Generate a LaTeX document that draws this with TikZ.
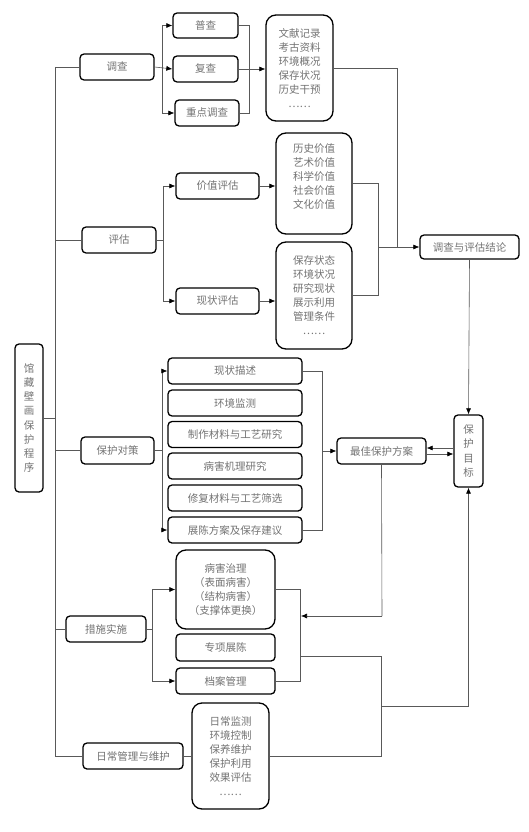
\documentclass[tikz,border=0pt]{standalone}
\usepackage{fontspec}
\setmainfont{Noto Sans CJK SC}
\usetikzlibrary{arrows.meta}
\begin{document}
\begin{tikzpicture}[x=1pt,y=-1pt,
  box/.style={draw=black, line width=1.3pt, rounded corners=4pt, inner sep=0pt,
    text=black!55, font=\fontsize{10.5}{14}\selectfont, align=center},
  tbox/.style={box, rounded corners=10pt},
  sz/.style 2 args={minimum width=#1pt, minimum height=#2pt},
  conn/.style={draw=black!65, line width=0.6pt},
  arr/.style={conn, -{Latex[length=6pt,width=5pt,color=black]}}]
\useasboundingbox (0,0) rectangle (528,832);
\fill[white] (0,0) rectangle (528,832);

% bus coordinates
\coordinate (L) at (55,0);
\coordinate (B1) at (162,0);
\coordinate (R1) at (249,0);
\coordinate (B2) at (163,0);
\coordinate (R2) at (378,0);
\coordinate (R3) at (397,0);
\coordinate (B3) at (162,0);
\coordinate (R4) at (322,0);
\coordinate (B4) at (152,0);
\coordinate (R5) at (300,0);
\coordinate (R6) at (382,0);
\coordinate (R7) at (381,0);

% nodes
\node[box, sz={28}{148}, font=\fontsize{10.5}{14.2}\selectfont] (root) at (29,418) {馆\\藏\\壁\\画\\保\\护\\程\\序};

\node[box, sz={74}{26}] (dc) at (117,67) {调查};
\node[box, sz={65}{25}] (pc) at (205.5,25.5) {普查};
\node[box, sz={65}{26}] (fc) at (205.5,69) {复查};
\node[box, sz={64}{26}] (zd) at (207,113) {重点调查};
\node[tbox, sz={67}{106}] (t1) at (299.5,68) {文献记录\\考古资料\\环境概况\\保存状况\\历史干预\\……};

\node[box, sz={74}{26}] (pg) at (119,240) {评估};
\node[box, sz={83}{26}] (jz) at (217.5,186) {价值评估};
\node[box, sz={83}{26}] (xz) at (217.5,301) {现状评估};
\node[tbox, sz={76}{101}] (t2) at (314,183.5) {历史价值\\艺术价值\\科学价值\\社会价值\\文化价值\\\phantom{……}};
\node[tbox, sz={76}{107}] (t3) at (314,295.5) {保存状态\\环境状况\\研究现状\\展示利用\\管理条件\\……};
\node[box, sz={99}{24}] (jl) at (469.5,247) {调查与评估结论};

\node[box, sz={73}{27}] (bh) at (117.5,450.5) {保护对策};
\node[box, sz={134}{26}] (s1) at (235,371) {现状描述};
\node[box, sz={134}{26}] (s2) at (235,403) {环境监测};
\node[box, sz={134}{26}] (s3) at (235,434.5) {制作材料与工艺研究};
\node[box, sz={134}{26}] (s4) at (235,466) {病害机理研究};
\node[box, sz={134}{26}] (s5) at (235,498) {修复材料与工艺筛选};
\node[box, sz={134}{26}] (s6) at (235,530) {展陈方案及保存建议};
\node[box, sz={89}{26}] (zj) at (381.5,451) {最佳保护方案};
\node[box, sz={29}{72}, font=\fontsize{10.5}{14.3}\selectfont] (mb) at (468.5,451) {保\\护\\目\\标};

\node[box, sz={80}{26}] (cs) at (106,629) {措施实施};
\node[tbox, sz={99}{79}] (bz) at (225.5,589.5) {病害治理\\（表面病害）\\（结构病害）\\（支撑体更换）};
\node[box, sz={99}{27}] (zx) at (225.5,647.5) {专项展陈};
\node[box, sz={99}{26}] (da) at (225.5,681) {档案管理};

\node[box, sz={100}{26}] (rc) at (133,756) {日常管理与维护};
\node[tbox, sz={77}{106}] (t4) at (230.5,756) {日常监测\\环境控制\\保养维护\\保护利用\\效果评估\\……};

% main left bus
\draw[conn] (L |- dc.west) -- (L |- rc.west);
\draw[conn] (dc.west) -- (L |- dc.west);
\draw[conn] (pg.west) -- (L |- pg.west);
\draw[conn] (root.east) -- (L |- root.east);
\draw[conn] (bh.west) -- (L |- bh.west);
\draw[conn] (cs.west) -- (L |- cs.west);
\draw[conn] (rc.west) -- (L |- rc.west);

% 调查 branch
\draw[conn] (B1 |- pc.west) -- (B1 |- zd.west);
\draw[arr] (dc.east) -- (fc.west);
\draw[arr] (B1 |- pc.west) -- (pc.west);
\draw[arr] (B1 |- zd.west) -- (zd.west);
\draw[conn] (pc.east) -- (R1 |- pc.east) -- (R1 |- zd.east) -- (zd.east);
\draw[arr] (fc.east) -- (t1.west |- fc.east);
\draw[conn] (t1.east) -- (R3 |- t1.east) -- (R3 |- jl.west);

% 评估 branch
\draw[conn] (pg.east) -- (B2 |- pg.east);
\draw[conn] (B2 |- jz.west) -- (B2 |- xz.west);
\draw[arr] (B2 |- jz.west) -- (jz.west);
\draw[arr] (B2 |- xz.west) -- (xz.west);
\draw[arr] (jz.east) -- (t2.west |- jz.east);
\draw[arr] (xz.east) -- (t3.west |- xz.east);
\draw[conn] (t2.east) -- (R2 |- t2.east) -- (R2 |- t3.east) -- (t3.east);
\draw[arr] (R2 |- jl.west) -- (jl.west);
\draw[arr] (jl.south) -- (mb.north);

% 保护对策 branch
\draw[conn] (bh.east) -- (B3 |- bh.east);
\draw[conn] (B3 |- s1.west) -- (B3 |- s6.west);
\draw[arr] (B3 |- s1.west) -- (s1.west);
\draw[arr] (B3 |- s6.west) -- (s6.west);
\draw[conn] (s1.east) -- (R4 |- s1.east) -- (R4 |- s6.east) -- (s6.east);
\draw[arr] (R4 |- zj.west) -- (zj.west);
\draw[arr] ([yshift=3pt]mb.west) -- ([yshift=3pt]zj.east);
\draw[arr] ([yshift=-3pt]zj.east) -- ([yshift=-3pt]mb.west);

% 措施实施 branch
\draw[conn] (cs.east) -- (B4 |- cs.east);
\draw[conn] (B4 |- bz.west) -- (B4 |- da.west);
\draw[arr] (B4 |- bz.west) -- (bz.west);
\draw[arr] (B4 |- da.west) -- (da.west);
\draw[conn] (bz.east) -- (R5 |- bz.east) -- (R5 |- da.east) -- (da.east);
\coordinate (zjDown) at (R6 |- 0,616);
\draw[conn] (zj.south) -- (zjDown);
\draw[arr] (zjDown) -- ([xshift=1pt]R5 |- zjDown);
\draw[conn] (R5 |- 0,656) -- (R7 |- 0,656) -- (R7 |- t4.east) -- (t4.east);
\draw[arr] (R7 |- 0,706) -- (mb.south |- 0,706) -- (mb.south);

% 日常管理
\draw[conn] (rc.east) -- (t4.west);
\end{tikzpicture}
\end{document}
